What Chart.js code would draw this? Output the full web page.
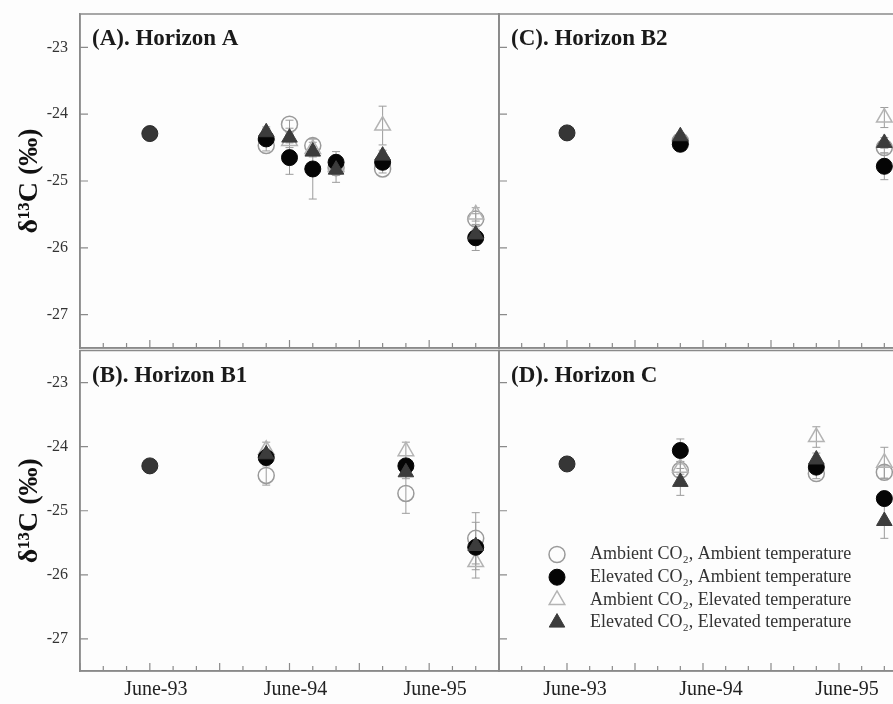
<!DOCTYPE html>
<html>
<head>
<meta charset="utf-8">
<script src="https://cdn.jsdelivr.net/npm/chart.js@4.4.1/dist/chart.umd.min.js"></script>
<style>
html, body { margin: 0; padding: 0; background: #fff; }
#wrap { position: relative; width: 893px; height: 704px; overflow: hidden; background: #fdfdfd; }
#wrap canvas { position: absolute; }
</style>
</head>
<body>
<div id="wrap">
  <canvas id="panelA" width="515" height="362" style="left:0px;top:0px"></canvas>
  <canvas id="panelC" width="440" height="362" style="left:485px;top:0px"></canvas>
  <canvas id="panelB" width="515" height="364" style="left:0px;top:340px"></canvas>
  <canvas id="panelD" width="440" height="364" style="left:485px;top:340px"></canvas>
</div>
<script>
// x values are months counted from June 1993
const seriesNames = [
    'Ambient CO₂, Ambient temperature',
    'Elevated CO₂, Ambient temperature',
    'Ambient CO₂, Elevated temperature',
    'Elevated CO₂, Elevated temperature'
];
const tickMonths = [0, 12, 24];
const tickLabels = ['June-93', 'June-94', 'June-95'];
const yTicks = [-23, -24, -25, -26, -27];
const xMin = -6, xMax = 30;
const yMin = -27.5, yMax = -22.5;

// (A) Horizon A
const monthsA = [10, 12, 14, 16, 20, 28];
const baseA = -24.29;
const aAmbAmb = [-24.47, -24.15, -24.47, -24.80, -24.82, -25.57];
const aEleAmb = [-24.37, -24.65, -24.82, -24.72, -24.72, -25.85];
const aAmbEle = [-24.32, -24.40, -24.52, -24.79, -24.17, -25.50];
const aEleEle = [-24.27, -24.35, -24.56, -24.83, -24.62, -25.80];
const aAmbAmbErr = [0.08, 0.06, 0.10, 0.10, 0.06, 0.08];
const aEleAmbErr = [0.08, 0.25, 0.45, 0.10, 0.08, 0.19];
const aAmbEleErr = [0.10, 0.10, 0.10, 0.23, 0.29, 0.10];
const aEleEleErr = [0.08, 0.08, 0.08, 0.08, 0.08, 0.08];

// (B) Horizon B1
const monthsB = [10, 22, 28];
const baseB = -24.30;
const bAmbAmb = [-24.45, -24.73, -25.43];
const bEleAmb = [-24.17, -24.30, -25.57];
const bAmbEle = [-24.05, -24.07, -25.80];
const bEleEle = [-24.12, -24.40, -25.55];
const bAmbAmbErr = [0.15, 0.31, 0.40];
const bEleAmbErr = [0.08, 0.10, 0.10];
const bAmbEleErr = [0.12, 0.14, 0.25];
const bEleEleErr = [0.08, 0.10, 0.37];

// (C) Horizon B2
const monthsC = [10, 28];
const baseC = -24.28;
const cAmbAmb = [-24.40, -24.50];
const cEleAmb = [-24.45, -24.78];
const cAmbEle = [-24.38, -24.05];
const cEleEle = [-24.33, -24.43];
const cAmbAmbErr = [0.05, 0.08];
const cEleAmbErr = [0.05, 0.20];
const cAmbEleErr = [0.05, 0.15];
const cEleEleErr = [0.05, 0.08];

// (D) Horizon C
const monthsD = [10, 22, 28];
const baseD = -24.27;
const dAmbAmb = [-24.37, -24.42, -24.40];
const dEleAmb = [-24.06, -24.32, -24.81];
const dAmbEle = [-24.33, -23.85, -24.25];
const dEleEle = [-24.55, -24.20, -25.16];
const dAmbAmbErr = [0.10, 0.08, 0.10];
const dEleAmbErr = [0.18, 0.08, 0.10];
const dAmbEleErr = [0.10, 0.16, 0.24];
const dEleEleErr = [0.21, 0.10, 0.27];

const serif = '"Liberation Serif", "Times New Roman", serif';

const markerStyles = [
    { pointStyle: 'circle', pointRadius: 8, backgroundColor: 'rgba(255,255,255,0)', borderColor: '#9a9a9a', borderWidth: 1.5, order: 3 },
    { pointStyle: 'circle', pointRadius: 8, backgroundColor: '#050505', borderColor: '#050505', borderWidth: 1, order: 1 },
    { pointStyle: 'triangle', pointRadius: 9, backgroundColor: 'rgba(255,255,255,0)', borderColor: '#b4b4b4', borderWidth: 1.5, order: 2 },
    { pointStyle: 'triangle', pointRadius: 9, backgroundColor: '#3c3c3c', borderColor: '#3c3c3c', borderWidth: 1, order: 0 }
];

function toPoints(months, values) {
    return months.map((m, i) => ({ x: m, y: values[i] }));
}

function noPad(s) {
    s.paddingTop = 0; s.paddingBottom = 0;
    s.paddingLeft = 0; s.paddingRight = 0;
}

const panelDecor = {
    id: 'panelDecor',
    beforeDatasetsDraw(chart) {
        // error bars, drawn under the markers
        const ctx = chart.ctx;
        const xs = chart.scales.x, ys = chart.scales.y;
        ctx.save();
        ctx.strokeStyle = '#9c9c9c';
        ctx.lineWidth = 1;
        chart.data.datasets.forEach(ds => {
            if (!ds.errors) return;
            ds.data.forEach((p, i) => {
                const e = ds.errors[i];
                const x = xs.getPixelForValue(p.x);
                const yTop = ys.getPixelForValue(p.y + e);
                const yBot = ys.getPixelForValue(p.y - e);
                ctx.beginPath();
                ctx.moveTo(x, yTop); ctx.lineTo(x, yBot);
                ctx.moveTo(x - 4, yTop); ctx.lineTo(x + 4, yTop);
                ctx.moveTo(x - 4, yBot); ctx.lineTo(x + 4, yBot);
                ctx.stroke();
            });
        });
        ctx.restore();
    },
    afterDraw(chart, args, opts) {
        const { ctx, chartArea: a } = chart;
        const xs = chart.scales.x, ys = chart.scales.y;
        ctx.save();
        ctx.strokeStyle = '#8a8a8a';
        ctx.lineWidth = 1.5;
        ctx.strokeRect(a.left, a.top, a.width, a.height);

        // inward tick marks
        ctx.lineWidth = 1.2;
        ctx.beginPath();
        for (let m = xMin; m <= xMax; m += 2) {
            const x = xs.getPixelForValue(m);
            const len = m % 6 === 0 ? 8 : 5;
            ctx.moveTo(x, a.bottom);
            ctx.lineTo(x, a.bottom - len);
        }
        yTicks.forEach(v => {
            const y = ys.getPixelForValue(v);
            ctx.moveTo(a.left, y);
            ctx.lineTo(a.left + 8, y);
        });
        ctx.stroke();

        // panel title
        ctx.fillStyle = '#1a1a1a';
        ctx.font = 'bold 23px ' + serif;
        ctx.textBaseline = 'alphabetic';
        ctx.fillText(opts.label, a.left + 12, a.top + 31);

        if (opts.legend) {
            const mx = a.left + 58, tx = a.left + 91;
            let y = a.top + 204;
            markerStyles.forEach((s, i) => {
                ctx.fillStyle = s.backgroundColor;
                ctx.strokeStyle = s.borderColor;
                ctx.lineWidth = s.borderWidth;
                Chart.helpers.drawPoint(ctx, { pointStyle: s.pointStyle, radius: s.pointRadius, borderWidth: s.borderWidth, rotation: 0 }, mx, y);
                ctx.fillStyle = '#333';
                ctx.font = '18px ' + serif;
                ctx.textBaseline = 'middle';
                ctx.fillText(seriesNames[i], tx, y);
                y += 22.7;
            });
        }
        ctx.restore();
    }
};

function makePanel(id, label, months, base, series, errors, opt) {
    const datasets = [{
        label: 'June-93',
        data: [{ x: 0, y: base }],
        pointStyle: 'circle',
        pointRadius: 8,
        backgroundColor: '#363636',
        borderColor: '#2a2a2a',
        borderWidth: 1,
        order: 4
    }];
    series.forEach((vals, i) => {
        datasets.push(Object.assign({
            label: seriesNames[i],
            data: toPoints(months, vals),
            errors: errors[i],
            showLine: false
        }, markerStyles[i]));
    });

    new Chart(document.getElementById(id), {
        type: 'scatter',
        data: { datasets },
        options: {
            responsive: false,
            animation: false,
            events: [],
            layout: { padding: opt.padding },
            plugins: {
                legend: { display: false },
                tooltip: { enabled: false },
                panelDecor: { label: label, legend: !!opt.legend }
            },
            scales: {
                x: {
                    type: 'linear',
                    min: xMin,
                    max: xMax,
                    afterBuildTicks: s => { s.ticks = tickMonths.map(v => ({ value: v })); },
                    afterFit: s => { s.height = opt.xLabels ? 33 : 0; noPad(s); },
                    grid: { drawOnChartArea: false, drawTicks: false },
                    border: { display: true, color: '#8a8a8a', width: 1.5 },
                    ticks: {
                        display: !!opt.xLabels,
                        autoSkip: false,
                        maxRotation: 0,
                        padding: 7,
                        labelOffset: opt.labelOffset || 0,
                        color: '#222',
                        font: { family: serif, size: 20 },
                        callback: v => tickLabels[tickMonths.indexOf(v)] || ''
                    }
                },
                y: {
                    min: yMin,
                    max: yMax,
                    afterBuildTicks: s => { s.ticks = yTicks.map(v => ({ value: v })); },
                    afterFit: s => { s.width = opt.yLabels ? 80 : 0; noPad(s); },
                    grid: { drawOnChartArea: false, drawTicks: false },
                    border: { display: true, color: '#8a8a8a', width: 1.5 },
                    ticks: {
                        display: !!opt.yLabels,
                        padding: 12,
                        color: '#333',
                        font: { family: serif, size: 16 },
                        callback: v => String(v)
                    },
                    title: {
                        display: !!opt.yLabels,
                        text: 'δ¹³C (‰)',
                        color: '#111',
                        font: { family: serif, size: 28, weight: 'bold' },
                        padding: { top: 13, bottom: 0 }
                    }
                }
            }
        },
        plugins: [panelDecor]
    });
}

makePanel('panelA', '(A). Horizon A', monthsA, baseA,
    [aAmbAmb, aEleAmb, aAmbEle, aEleEle], [aAmbAmbErr, aEleAmbErr, aAmbEleErr, aEleEleErr],
    { padding: { left: 0, right: 16, top: 14, bottom: 14 }, yLabels: true });
makePanel('panelC', '(C). Horizon B2', monthsC, baseC,
    [cAmbAmb, cEleAmb, cAmbEle, cEleEle], [cAmbAmbErr, cEleAmbErr, cAmbEleErr, cEleEleErr],
    { padding: { left: 14, right: 18, top: 14, bottom: 14 } });
makePanel('panelB', '(B). Horizon B1', monthsB, baseB,
    [bAmbAmb, bEleAmb, bAmbEle, bEleEle], [bAmbAmbErr, bEleAmbErr, bAmbEleErr, bEleEleErr],
    { padding: { left: 0, right: 16, top: 8, bottom: 0 }, yLabels: true, xLabels: true, labelOffset: 6 });
makePanel('panelD', '(D). Horizon C', monthsD, baseD,
    [dAmbAmb, dEleAmb, dAmbEle, dEleEle], [dAmbAmbErr, dEleAmbErr, dAmbEleErr, dEleEleErr],
    { padding: { left: 14, right: 18, top: 8, bottom: 0 }, xLabels: true, labelOffset: 8, legend: true });
</script>
</body>
</html>
